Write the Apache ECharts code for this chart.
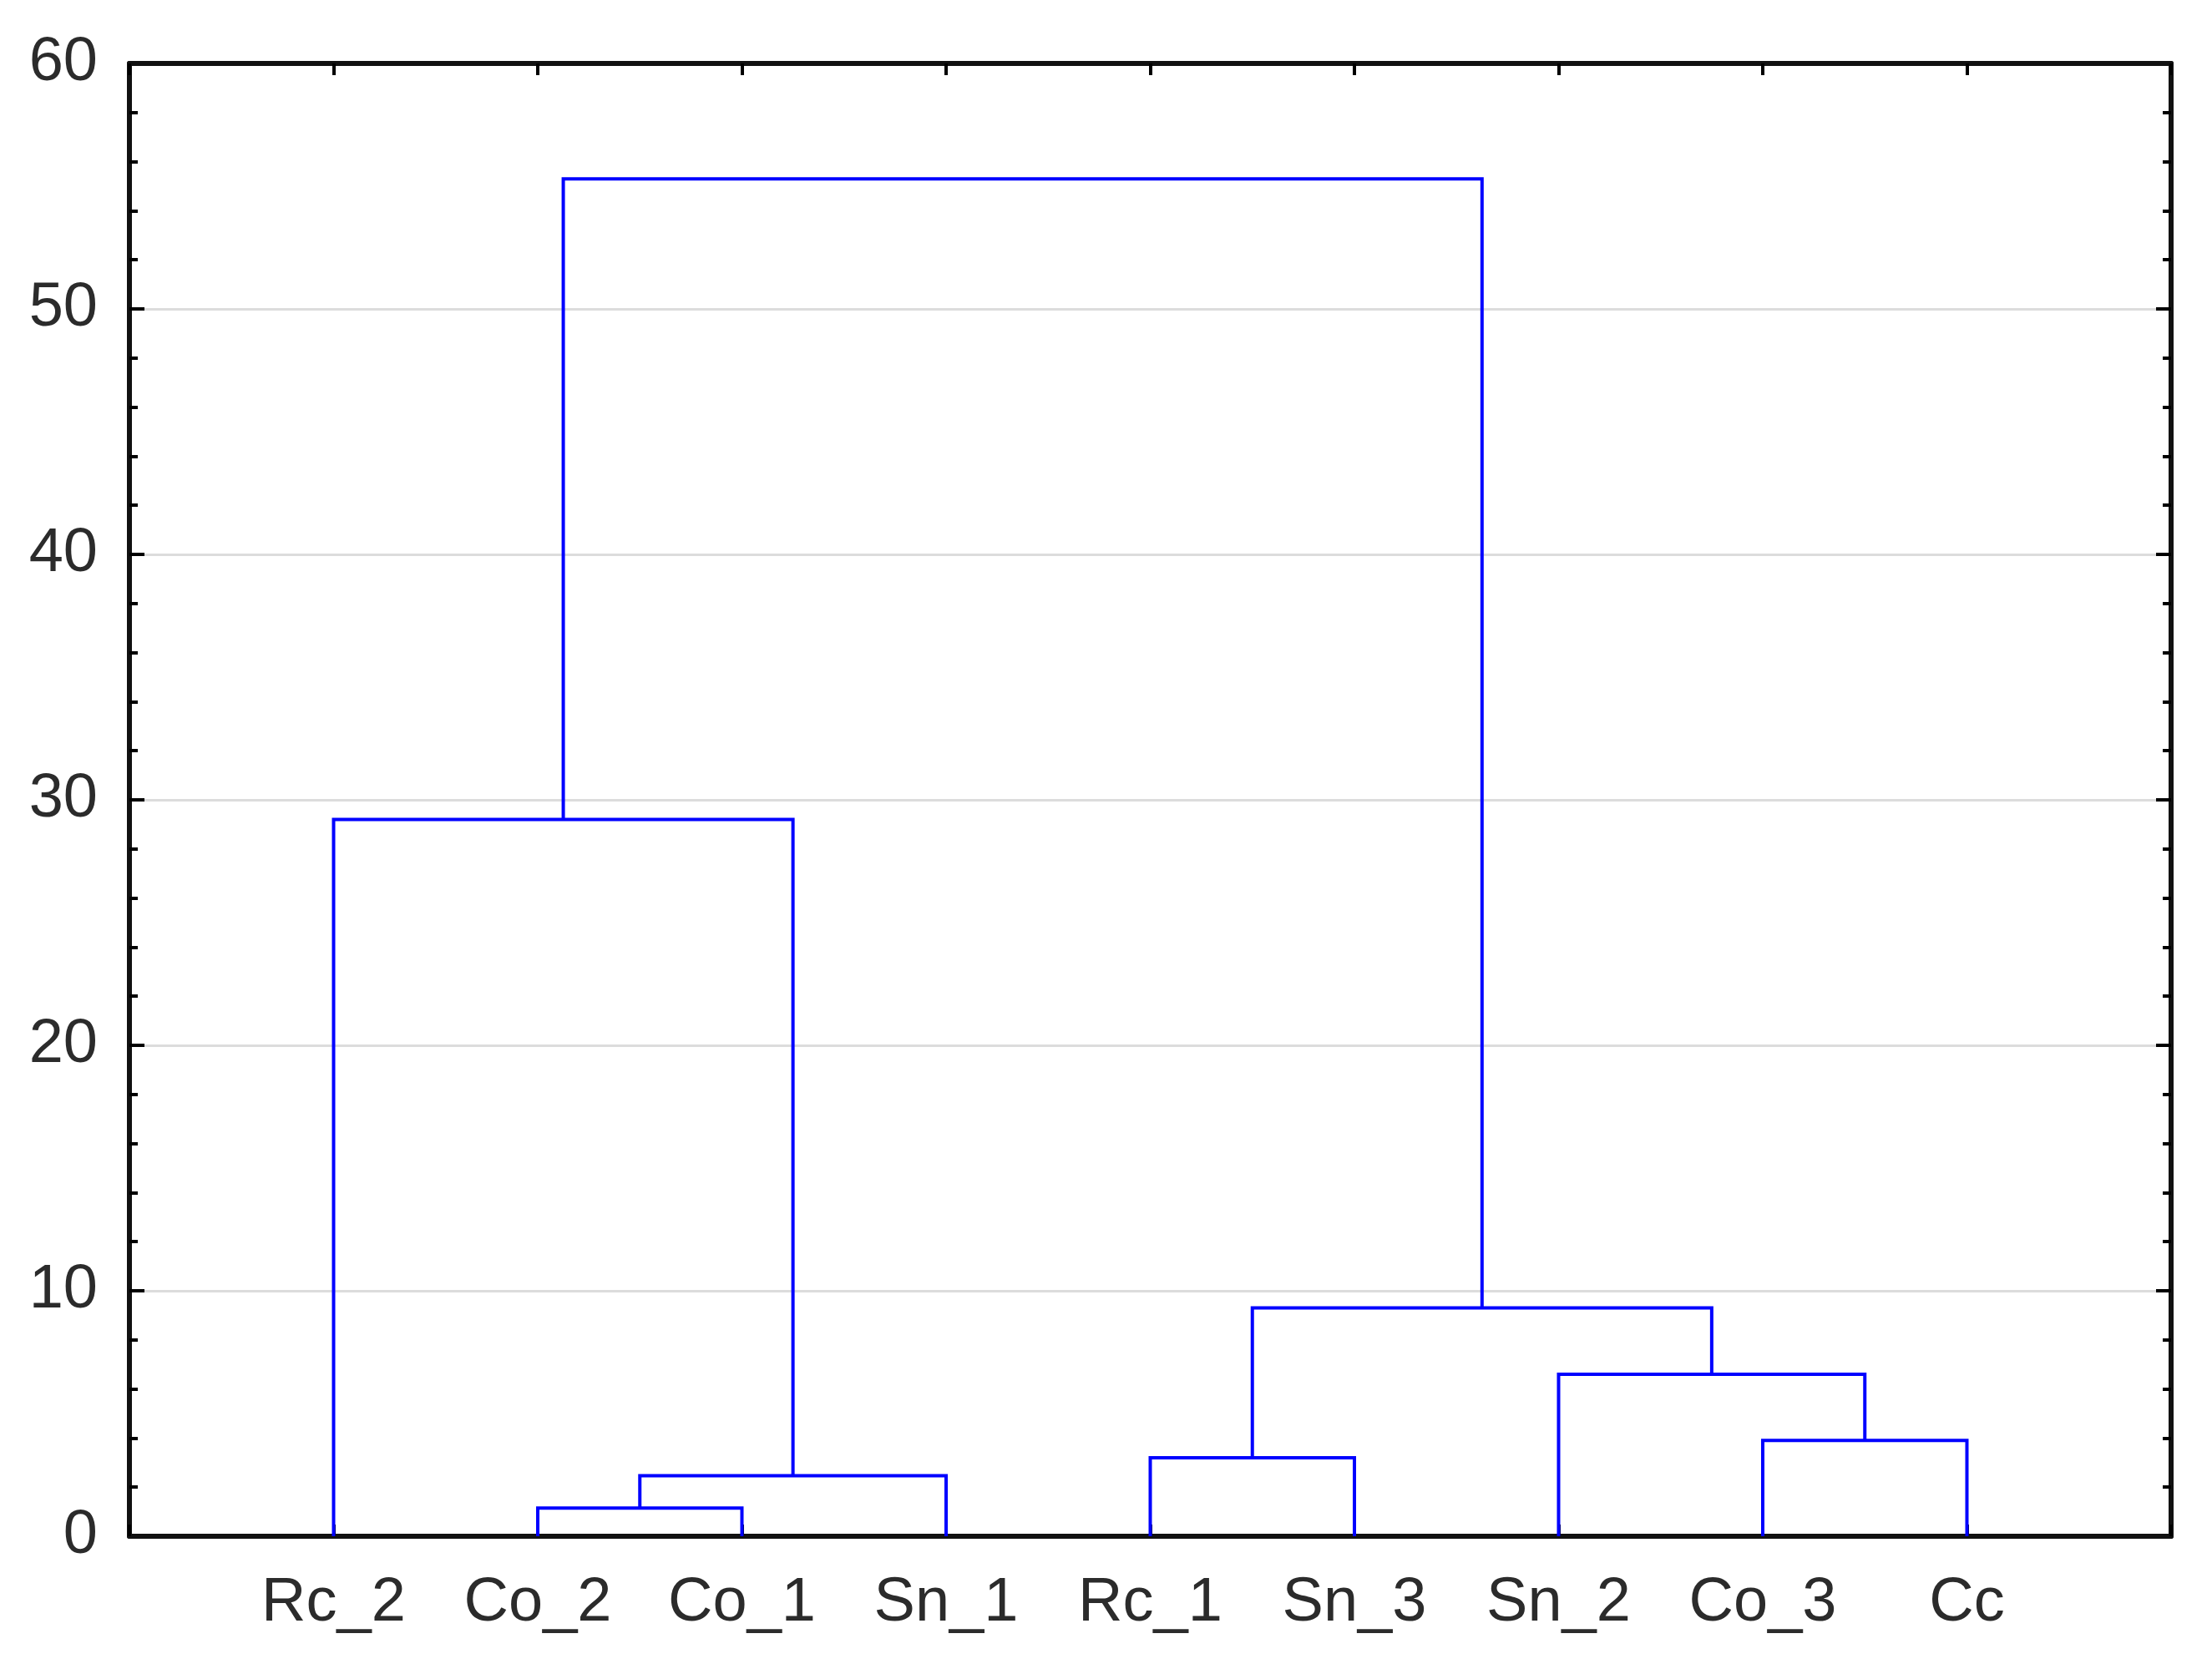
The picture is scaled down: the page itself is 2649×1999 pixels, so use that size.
<!DOCTYPE html>
<html>
<head>
<meta charset="utf-8">
<script src="https://cdn.jsdelivr.net/npm/echarts@6/dist/echarts.min.js"></script>
<style>
  html, body { margin: 0; padding: 0; background: #fff; }
  #chart { width: 2649px; height: 1999px; }
</style>
</head>
<body>
<div id="chart"></div>
<script>
  // leaves in dendrogram order
  const leaves = ['Rc_2', 'Co_2', 'Co_1', 'Sn_1', 'Rc_1', 'Sn_3', 'Sn_2', 'Co_3', 'Cc']
  // merges: node ids < 9 are leaves, 9+k is the cluster made by merge k
  const mergeLeft = [1, 9, 0, 4, 7, 6, 12, 11]
  const mergeRight = [2, 3, 10, 5, 8, 13, 14, 15]
  const mergeHeight = [1.15, 2.47, 29.2, 3.2, 3.9, 6.6, 9.3, 55.3]
  const yTicks = [0, 10, 20, 30, 40, 50, 60]

  const nodeX = leaves.map((_, i) => i + 1)
  const nodeY = leaves.map(() => 0)
  const series = []
  mergeLeft.forEach((l, k) => {
    const r = mergeRight[k]
    const h = mergeHeight[k]
    series.push({
      type: 'line',
      symbol: 'none',
      silent: true,
      animation: false,
      lineStyle: { color: '#0000ff', width: 4, join: 'miter', cap: 'butt' },
      data: [[nodeX[l], nodeY[l]], [nodeX[l], h], [nodeX[r], h], [nodeX[r], nodeY[r]]]
    })
    nodeX.push((nodeX[l] + nodeX[r]) / 2)
    nodeY.push(h)
  })

  const font = 'Liberation Sans'
  const axisLine = { show: true, onZero: false, lineStyle: { color: '#111', width: 6 } }

  const chart = echarts.init(document.getElementById('chart'))
  chart.setOption({
    backgroundColor: '#fff',
    animation: false,
    grid: { left: 155, top: 76, right: 49, bottom: 159, containLabel: false },
    xAxis: [
      {
        type: 'value', position: 'bottom', min: 0, max: leaves.length + 1, interval: 1, z: 3,
        axisLine,
        axisTick: { show: true, inside: true, length: 14, lineStyle: { color: '#000', width: 4 } },
        axisLabel: {
          margin: 44, fontFamily: font, fontSize: 74, color: '#2b2b2b',
          formatter: (v) => leaves[v - 1] || ''
        },
        splitLine: { show: false }
      },
      {
        type: 'value', position: 'top', min: 0, max: leaves.length + 1, interval: 1, z: 3,
        axisLine,
        axisTick: { show: true, inside: true, length: 14, lineStyle: { color: '#000', width: 4 } },
        axisLabel: { show: false },
        splitLine: { show: false }
      }
    ],
    yAxis: [
      {
        type: 'value', position: 'left', min: yTicks[0], max: yTicks[yTicks.length - 1], interval: 10,
        axisLine,
        axisTick: { show: true, inside: true, length: 18, lineStyle: { color: '#000', width: 4 } },
        minorTick: { show: true, splitNumber: 5, length: 10, lineStyle: { color: '#000', width: 4 } },
        axisLabel: { margin: 38, fontFamily: font, fontSize: 74, color: '#2b2b2b' },
        splitLine: { show: true, lineStyle: { color: '#dcdcdc', width: 3 } }
      },
      {
        type: 'value', position: 'right', min: yTicks[0], max: yTicks[yTicks.length - 1], interval: 10,
        axisLine,
        axisTick: { show: true, inside: true, length: 18, lineStyle: { color: '#000', width: 4 } },
        minorTick: { show: true, splitNumber: 5, length: 10, lineStyle: { color: '#000', width: 4 } },
        axisLabel: { show: false },
        splitLine: { show: false }
      }
    ],
    series
  })
</script>
</body>
</html>
